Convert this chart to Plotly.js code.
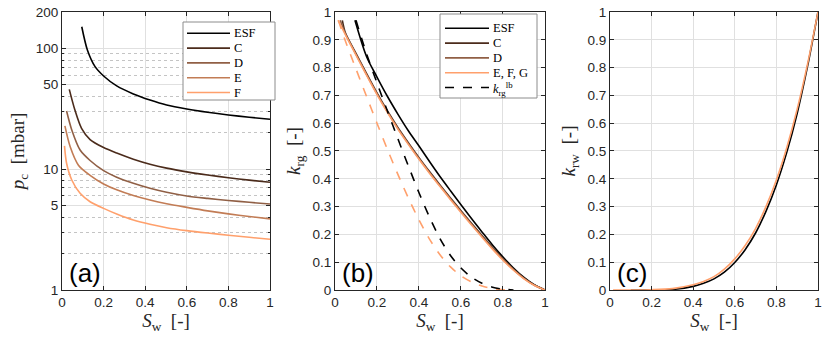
<!DOCTYPE html>
<html>
<head>
<meta charset="utf-8">
<script src="https://cdn.plot.ly/plotly-3.0.1.min.js"></script>
<style>
  body { margin: 0; background: #fff; }
  #chart { width: 830px; height: 338px; }
</style>
</head>
<body>
<div id="chart"></div>
<script>
/* ---- data ---- */

// (a) capillary pressure pc [mbar] vs Sw
var swEsfA = [0.095, 0.122, 0.159, 0.2, 0.263, 0.343, 0.423, 0.503, 0.6, 0.7, 0.8, 0.9, 1];
var pcEsf  = [151, 97, 70.6, 59.1, 48.9, 42, 37.4, 34, 31.5, 29.6, 28.1, 26.9, 25.9];
var swCA   = [0.035, 0.062, 0.094, 0.135, 0.2, 0.263, 0.343, 0.423, 0.503, 0.6, 0.7, 0.8, 0.9, 1];
var pcC    = [45.8, 30.9, 21.8, 17.6, 15.1, 13.6, 12.1, 11.0, 10.2, 9.5, 8.95, 8.5, 8.12, 7.79];
var swDA   = [0.022, 0.047, 0.087, 0.135, 0.2, 0.263, 0.343, 0.423, 0.503, 0.6, 0.7, 0.8, 0.9, 1];
var pcD    = [30.3, 21.1, 14.4, 11.8, 9.72, 8.57, 7.64, 6.95, 6.44, 6.0, 5.73, 5.51, 5.32, 5.15];
var swEA   = [0.014, 0.039, 0.079, 0.135, 0.2, 0.263, 0.343, 0.423, 0.503, 0.6, 0.7, 0.8, 0.9, 1];
var pcE    = [22.8, 15.4, 10.8, 8.9, 7.55, 6.75, 6.05, 5.55, 5.17, 4.83, 4.52, 4.27, 4.06, 3.88];
var swFA   = [0.012, 0.022, 0.047, 0.087, 0.135, 0.2, 0.263, 0.343, 0.423, 0.503, 0.6, 0.7, 0.8, 0.9, 1];
var pcF    = [15.6, 11.2, 8.14, 6.31, 5.38, 4.74, 4.26, 3.80, 3.50, 3.28, 3.10, 2.96, 2.84, 2.73, 2.63];

// (b) gas relative permeability krg vs Sw
var swB      = [0.05, 0.1, 0.15, 0.2, 0.25, 0.3, 0.35, 0.4, 0.45, 0.5, 0.55, 0.6, 0.65, 0.7, 0.75, 0.8, 0.85, 0.9, 0.95, 1];
var krgEfg   = [0.918, 0.845, 0.773, 0.703, 0.638, 0.578, 0.523, 0.47, 0.42, 0.372, 0.325, 0.279, 0.234, 0.19, 0.147, 0.107, 0.071, 0.04, 0.016, 0];
var krgD     = [0.921, 0.848, 0.776, 0.706, 0.641, 0.581, 0.526, 0.473, 0.423, 0.375, 0.328, 0.282, 0.237, 0.193, 0.15, 0.11, 0.073, 0.042, 0.017, 0];
var krgC     = [0.924, 0.851, 0.779, 0.709, 0.644, 0.584, 0.529, 0.476, 0.426, 0.378, 0.331, 0.285, 0.24, 0.196, 0.153, 0.112, 0.075, 0.043, 0.018, 0];
var swEsfB   = [0.095, 0.15, 0.2, 0.25, 0.3, 0.35, 0.4, 0.45, 0.5, 0.55, 0.6, 0.65, 0.7, 0.75, 0.8, 0.85, 0.9, 0.95, 1];
var krgEsf   = [0.97, 0.84, 0.766, 0.696, 0.632, 0.572, 0.518, 0.462, 0.408, 0.357, 0.307, 0.257, 0.209, 0.162, 0.119, 0.079, 0.045, 0.018, 0];
var swLbK    = [0.1, 0.15, 0.2, 0.25, 0.3, 0.35, 0.4, 0.45, 0.5, 0.55, 0.6, 0.65, 0.7, 0.75, 0.8, 0.85];
var krgLbK   = [0.97, 0.85, 0.745, 0.643, 0.543, 0.445, 0.35, 0.262, 0.185, 0.124, 0.079, 0.046, 0.024, 0.01, 0.003, 0];
var swLbO    = [0.016, 0.05, 0.1, 0.15, 0.2, 0.25, 0.3, 0.35, 0.4, 0.45, 0.5, 0.55, 0.6, 0.65, 0.7, 0.75, 0.8, 0.82];
var krgLbO   = [0.97, 0.895, 0.795, 0.697, 0.6, 0.505, 0.415, 0.33, 0.252, 0.183, 0.127, 0.083, 0.051, 0.029, 0.014, 0.005, 0.001, 0];

// (c) water relative permeability krw vs Sw
var swC      = [0.015, 0.1, 0.2, 0.3, 0.4, 0.45, 0.5, 0.55, 0.6, 0.65, 0.7, 0.75, 0.8, 0.85, 0.9, 0.95, 1];
var krwOr    = [0, 0, 0.001, 0.005, 0.019, 0.031, 0.048, 0.075, 0.112, 0.16, 0.221, 0.3, 0.396, 0.512, 0.65, 0.813, 1];
var swCk     = [0.1, 0.2, 0.3, 0.4, 0.45, 0.5, 0.55, 0.6, 0.65, 0.7, 0.75, 0.8, 0.85, 0.9, 0.95, 1];
var krwEsf   = [0, 0.0002, 0.002, 0.013, 0.024, 0.04, 0.064, 0.099, 0.145, 0.205, 0.283, 0.378, 0.495, 0.635, 0.805, 1];

// legend entries
var legNamesA = ['ESF', 'C', 'D', 'E', 'F'];
var legNamesB = ['ESF', 'C', 'D', 'E, F, G', '<i>k</i><sub>rg</sub><sup>lb</sup>'];

var colors = ['#000000', '#4b2b1b', '#905f45', '#c27c55', '#ffa06c'];
var legColorsB = [colors[0], colors[1], colors[2], colors[4], '#000000'];
var legDashB = ['solid', 'solid', 'solid', 'solid', 'dash'];

var LW = 1.6;
function ln(x, y, color, extra) {
  var t = {x: x, y: y, mode: 'lines', type: 'scatter', showlegend: false,
    line: {color: color, width: LW, shape: 'spline', smoothing: 0.8}};
  for (var k in extra) t[k] = extra[k];
  return t;
}
var b = {xaxis: 'x2', yaxis: 'y2'};
var c = {xaxis: 'x3', yaxis: 'y3'};

var data = [
  // (a)
  ln(swEsfA, pcEsf, colors[0], {name: 'ESF'}),
  ln(swCA, pcC, colors[1], {name: 'C'}),
  ln(swDA, pcD, colors[2], {name: 'D'}),
  ln(swEA, pcE, colors[3], {name: 'E'}),
  ln(swFA, pcF, colors[4], {name: 'F'}),
  // (b)
  ln(swLbO, krgLbO, colors[4], b),
  ln(swEsfB, krgEsf, colors[0], b),
  ln([0.035].concat(swB), [0.97].concat(krgC), colors[1], b),
  ln([0.025].concat(swB), [0.97].concat(krgD), colors[2], b),
  ln([0.015].concat(swB), [0.97].concat(krgEfg), colors[4], b),
  ln(swLbK, krgLbK, '#000000', b),
  // (c)
  ln(swCk, krwEsf, colors[0], c),
  ln(swC, krwOr, colors[4], c)
];
data[5].line.dash = 'dash';
data[10].line.dash = 'dash';

var tickFont = {family: 'Liberation Sans, Arial, sans-serif', size: 13.5, color: '#262626'};
var titleFont = {family: 'Liberation Serif, Times New Roman, serif', size: 19, color: '#262626'};
var legFont = {family: 'Liberation Serif, Times New Roman, serif', size: 12.5, color: '#000'};

function xax(dom, anchor) {
  return {domain: dom, anchor: anchor, range: [0, 1], dtick: 0.2, tick0: 0, showgrid: true, gridcolor: '#e0e0e0',
    showline: true, mirror: 'ticks', linecolor: '#262626', linewidth: 1, ticks: 'inside', ticklen: 4,
    tickcolor: '#262626', tickfont: tickFont, zeroline: false, automargin: false,
    title: {text: '<i>S</i><sub>w</sub>  [-]', font: titleFont, standoff: 4}};
}
function yax(anchor, title) {
  return {domain: [0.142, 0.9645], range: [0, 1], dtick: 0.1, tick0: 0, showgrid: true, gridcolor: '#e0e0e0',
    showline: true, mirror: 'ticks', linecolor: '#262626', linewidth: 1, ticks: 'inside', ticklen: 4,
    tickcolor: '#262626', tickfont: tickFont, zeroline: false, automargin: false, anchor: anchor,
    title: {text: title, font: titleFont, standoff: 6}};
}

// log axis for (a)
var yaxisA = yax('x', '<i>p</i><sub>c</sub>  [mbar]');
yaxisA.type = 'log';
yaxisA.range = [0, Math.log10(200)];
yaxisA.tickmode = 'array';
yaxisA.tickvals = [1, 5, 10, 50, 100, 200];
yaxisA.ticktext = ['1', '5', '10', '50', '100', '200'];
delete yaxisA.dtick; delete yaxisA.tick0;
yaxisA.minor = {tickmode: 'array', tickvals: [2, 3, 4, 6, 7, 8, 9, 20, 30, 40, 60, 70, 80, 90],
  showgrid: true, griddash: 'dot', gridcolor: '#c4c4c4', ticks: 'inside', ticklen: 2, tickcolor: '#262626'};

// MATLAB-style legend boxes (compact rows), placed in pixels of the 830x338 page
var W = 830, H = 338;
var shapes = [], annotations = [];
function px(x) { return x / W; }
function py(y) { return 1 - y / H; }
function legendBox(box, rowY, x0, x1, names, cols, dashes) {
  shapes.push({type: 'rect', xref: 'paper', yref: 'paper', layer: 'above',
    x0: px(box[0]), x1: px(box[1]), y0: py(box[2]), y1: py(box[3]),
    fillcolor: '#fff', line: {color: '#8c8c8c', width: 1}});
  for (var i = 0; i < names.length; i++) {
    var y = rowY[0] + i * rowY[1];
    shapes.push({type: 'line', xref: 'paper', yref: 'paper', layer: 'above',
      x0: px(x0), x1: px(x1), y0: py(y), y1: py(y),
      line: {color: cols[i], width: LW, dash: dashes[i]}});
    var isMath = names[i].indexOf('<sup>') >= 0;
    annotations.push({text: names[i], xref: 'paper', yref: 'paper', x: px(x1 + 2), y: py(y),
      xanchor: 'left', yanchor: 'middle', showarrow: false, font: legFont, yshift: isMath ? -2 : 0});
  }
}
legendBox([183, 275, 22, 100], [33.3, 14.8], 187, 230, legNamesA, colors, ['solid', 'solid', 'solid', 'solid', 'solid']);
legendBox([440, 537, 14, 98], [28.3, 14.8], 445, 489, legNamesB, legColorsB, legDashB);

function panelLabel(t, xr, yr) {
  return {text: t, xref: xr + ' domain', yref: yr + ' domain', x: 0.025, y: 0.0, xanchor: 'left', yanchor: 'bottom',
    showarrow: false, font: {family: 'Liberation Sans, Arial, sans-serif', size: 26, color: '#000'}};
}
annotations.push(panelLabel('(a)', 'x', 'y'), panelLabel('(b)', 'x2', 'y2'), panelLabel('(c)', 'x3', 'y3'));

var layout = {
  width: W, height: H,
  margin: {l: 0, r: 0, t: 0, b: 0},
  paper_bgcolor: '#fff', plot_bgcolor: '#fff',
  showlegend: false,
  xaxis: xax([0.0747, 0.3253], 'y'),
  yaxis: yaxisA,
  xaxis2: xax([0.4036, 0.6566], 'y2'),
  yaxis2: yax('x2', '<i>k</i><sub>rg</sub>  [-]'),
  xaxis3: xax([0.7349, 0.9855], 'y3'),
  yaxis3: yax('x3', '<i>k</i><sub>rw</sub>  [-]'),
  shapes: shapes,
  annotations: annotations
};

Plotly.newPlot('chart', data, layout, {staticPlot: true, displayModeBar: false});
</script>
</body>
</html>
